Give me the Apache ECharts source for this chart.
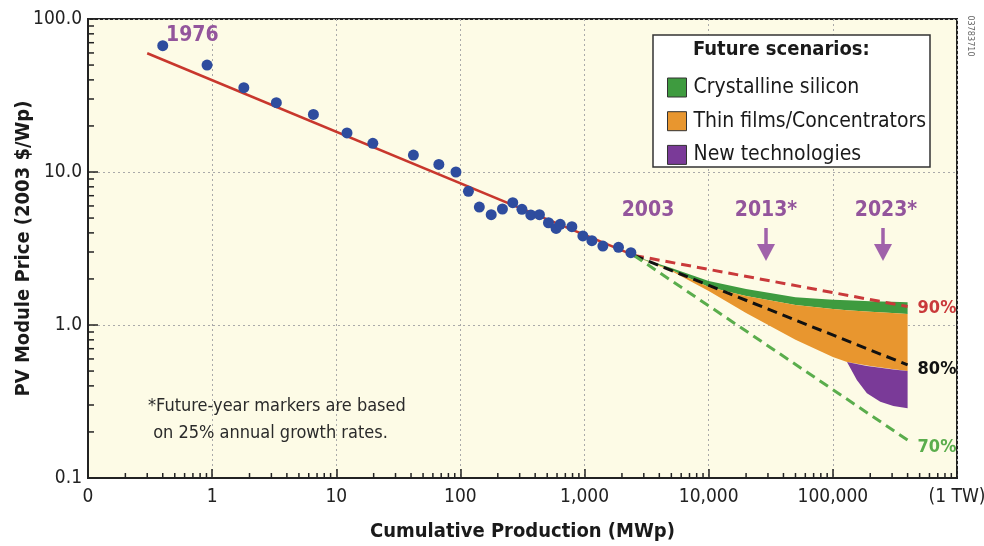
<!DOCTYPE html>
<html><head><meta charset="utf-8">
<script src="https://cdn.jsdelivr.net/npm/echarts@6/dist/echarts.min.js"></script>
<style>html,body{margin:0;padding:0;background:#fff}#c{width:984px;height:546px}</style>
</head><body><div id="c"></div>
<script>
// ---- data ----
var histX = [0.40, 0.91, 1.80, 3.29, 6.54, 12.2, 19.7, 41.8, 67, 92, 116, 142, 177, 218, 264, 313, 369, 433, 512, 590, 636, 790, 969, 1146, 1404, 1876, 2361];
var histY = [66.9, 50.0, 35.6, 28.4, 23.8, 18.0, 15.4, 12.9, 11.2, 10.0, 7.48, 5.9, 5.26, 5.73, 6.30, 5.70, 5.24, 5.26, 4.66, 4.28, 4.55, 4.39, 3.82, 3.56, 3.28, 3.22, 2.97];
var fitX = [0.3, 2500];
var fitY = [59.7, 2.85];
var futX = [2500, 400000];
var fut90 = [2.85, 1.32];
var fut80 = [2.85, 0.548];
var fut70 = [2.85, 0.177];
var bandX = [2500, 5000, 10000, 20000, 50000, 100000, 130000, 200000, 300000, 400000];
var greenTop = [2.82, 2.36, 1.94, 1.72, 1.52, 1.46, 1.45, 1.43, 1.42, 1.41];
var greenBottom = [2.82, 2.29, 1.77, 1.55, 1.35, 1.27, 1.25, 1.22, 1.20, 1.18];
var orangeBottom = [2.82, 2.25, 1.67, 1.20, 0.80, 0.618, 0.573, 0.540, 0.515, 0.50];
var purpleX = [130000, 156000, 188000, 241000, 307000, 400000];
var purpleTop = [0.573, 0.555, 0.540, 0.525, 0.512, 0.50];
var purpleBottom = [0.573, 0.437, 0.358, 0.315, 0.296, 0.286];
var xTickLabels = ['0', '1', '10', '100', '1,000', '10,000', '100,000', '(1 TW)'];
var yTickLabels = ['0.1', '1.0', '10.0', '100.0'];
var scenarioNames = ['Crystalline silicon', 'Thin films/Concentrators', 'New technologies'];

var FONT = "'Liberation Sans Narrow','DejaVu Sans Condensed','Arial Narrow',sans-serif";
var C_GREEN = '#3e9b3f', C_ORANGE = '#e8962f', C_PURPLE = '#7a3a98';
var C_ANN = '#93559c';

function pairs(xs, ys) { return xs.map(function (x, i) { return [x, ys[i]]; }); }

function band(name, xs, top, bottom, color) {
  return {
    name: name, type: 'custom', coordinateSystem: 'cartesian2d', silent: true, z: 1,
    itemStyle: { color: color },
    data: [[xs[0], top[0]]],
    renderItem: function (params, api) {
      var pts = [];
      for (var i = 0; i < xs.length; i++) pts.push(api.coord([xs[i], top[i]]));
      for (var j = xs.length - 1; j >= 0; j--) pts.push(api.coord([xs[j], bottom[j]]));
      return { type: 'polygon', shape: { points: pts }, style: { fill: color } };
    }
  };
}

// minor ticks (2..9 x 10^n) drawn through axis scales
var xMinor = [], yMinor = [];
for (var n = -1; n <= 5; n++) for (var k = 2; k <= 9; k++) xMinor.push([k * Math.pow(10, n), 0.1]);
for (var m = -1; m <= 1; m++) for (var q = 2; q <= 9; q++) yMinor.push([0.1, q * Math.pow(10, m)]);

function tickSeries(data, horiz) {
  return {
    type: 'custom', coordinateSystem: 'cartesian2d', silent: true, z: 6,
    data: data,
    renderItem: function (params, api) {
      var p = api.coord([api.value(0), api.value(1)]);
      var shape = horiz ? { x1: p[0], y1: p[1], x2: p[0], y2: p[1] - 5 }
                        : { x1: p[0], y1: p[1], x2: p[0] + 6, y2: p[1] };
      return { type: 'line', shape: shape, style: { stroke: '#222', lineWidth: 1.5 } };
    }
  };
}

function dashed(ys, color, label, off) {
  return {
    type: 'line', data: pairs(futX, ys), symbol: 'none', z: 4, silent: true,
    lineStyle: { color: color, width: 3, type: [10, 6] },
    endLabel: { show: true, formatter: label, color: color, fontFamily: FONT, fontSize: 18, fontWeight: 'bold', offset: off }
  };
}

var chart = echarts.init(document.getElementById('c'), null, { renderer: 'canvas' });
var axisGrid = { show: true, lineStyle: { color: '#aaa', type: [2, 3], width: 1 } };
chart.setOption({
  animation: false,
  backgroundColor: '#fff',
  grid: { left: 88, right: 27, top: 19, bottom: 68, containLabel: false, outerBoundsMode: 'none',
    show: true, backgroundColor: '#fdfbe6', borderColor: '#222', borderWidth: 2 },
  xAxis: {
    type: 'log', logBase: 10, min: 0.1, max: 1000000,
    name: 'Cumulative Production (MWp)', nameLocation: 'middle', nameGap: 44, nameMoveOverlap: false,
    nameTextStyle: { fontFamily: FONT, fontSize: 20, fontWeight: 'bold', color: '#1a1a1a' },
    axisLine: { lineStyle: { color: '#222', width: 2 } },
    axisTick: { inside: true, length: 9, lineStyle: { color: '#222', width: 1.5 } },
    axisLabel: { margin: 10, fontFamily: FONT, fontSize: 19, color: '#222', showMinLabel: true, showMaxLabel: true,
      formatter: function (v) { return xTickLabels[Math.round(Math.log10(v)) + 1]; } },
    splitLine: axisGrid
  },
  yAxis: {
    type: 'log', logBase: 10, min: 0.1, max: 100,
    name: 'PV Module Price (2003 $/Wp)', nameLocation: 'middle', nameGap: 54, nameMoveOverlap: false,
    nameTextStyle: { fontFamily: FONT, fontSize: 20, fontWeight: 'bold', color: '#1a1a1a' },
    axisLine: { lineStyle: { color: '#222', width: 2 } },
    axisTick: { inside: true, length: 10, lineStyle: { color: '#222', width: 1.5 } },
    axisLabel: { margin: 6, fontFamily: FONT, fontSize: 19, color: '#222',
      formatter: function (v) { return yTickLabels[Math.round(Math.log10(v)) + 1]; } },
    splitLine: axisGrid
  },
  legend: {
    orient: 'vertical', left: 662, top: 72, itemWidth: 19, itemHeight: 19, itemGap: 12.7, icon: 'rect',
    selectedMode: false, z: 8,
    data: scenarioNames,
    itemStyle: { borderColor: '#333', borderWidth: 1 },
    textStyle: { fontFamily: FONT, fontSize: 21, color: '#1a1a1a', lineHeight: 19, padding: [0, 0, 0, 2] }
  },
  graphic: [
    { type: 'rect', z: 7, shape: { x: 653, y: 35, width: 277, height: 132 }, style: { fill: '#fff', stroke: '#333', lineWidth: 1.5 } },
    { type: 'text', z: 8, x: 693, y: 50, style: { text: 'Future scenarios:', font: 'bold 20px ' + FONT, fill: '#1a1a1a', textVerticalAlign: 'middle' } },
    { type: 'text', z: 8, x: 166, y: 36, style: { text: '1976', font: 'bold 21px ' + FONT, fill: C_ANN, textVerticalAlign: 'middle' } },
    { type: 'text', z: 8, x: 648, y: 211, style: { text: '2003', font: 'bold 21px ' + FONT, fill: C_ANN, textAlign: 'center', textVerticalAlign: 'middle' } },
    { type: 'text', z: 8, x: 766, y: 211, style: { text: '2013*', font: 'bold 21px ' + FONT, fill: C_ANN, textAlign: 'center', textVerticalAlign: 'middle' } },
    { type: 'text', z: 8, x: 886, y: 211, style: { text: '2023*', font: 'bold 21px ' + FONT, fill: C_ANN, textAlign: 'center', textVerticalAlign: 'middle' } },
    { type: 'line', z: 8, shape: { x1: 766, y1: 228, x2: 766, y2: 248 }, style: { stroke: '#a062aa', lineWidth: 3.5 } },
    { type: 'polygon', z: 8, shape: { points: [[757, 244], [775, 244], [766, 261]] }, style: { fill: '#a062aa' } },
    { type: 'line', z: 8, shape: { x1: 883, y1: 228, x2: 883, y2: 248 }, style: { stroke: '#a062aa', lineWidth: 3.5 } },
    { type: 'polygon', z: 8, shape: { points: [[874, 244], [892, 244], [883, 261]] }, style: { fill: '#a062aa' } },
    { type: 'text', z: 8, x: 148, y: 420, style: { text: '*Future-year markers are based\n on 25% annual growth rates.', font: '18px ' + FONT, fill: '#2a2a2a', lineHeight: 27, textVerticalAlign: 'middle' } },
    { type: 'text', z: 8, x: 970, y: 36, rotation: -Math.PI / 2, style: { text: '03783710', font: '9px ' + FONT, fill: '#666', textAlign: 'center', textVerticalAlign: 'middle' } }
  ],
  series: [
    band(scenarioNames[0], bandX, greenTop, greenBottom, C_GREEN),
    band(scenarioNames[1], bandX, greenBottom, orangeBottom, C_ORANGE),
    band(scenarioNames[2], purpleX, purpleTop, purpleBottom, C_PURPLE),
    dashed(fut90, '#c9393a', '90%', [2, 2]),
    dashed(fut80, '#111', '80%', [2, 4]),
    dashed(fut70, '#5aad4c', '70%', [2, 7]),
    { type: 'line', data: pairs(fitX, fitY), symbol: 'none', z: 3, silent: true, lineStyle: { color: '#c8372d', width: 2.5 } },
    { type: 'scatter', data: pairs(histX, histY), symbolSize: 11, z: 5, itemStyle: { color: '#2e4c9e', opacity: 1 } },
    tickSeries(xMinor, true),
    tickSeries(yMinor, false)
  ]
});
</script></body></html>
